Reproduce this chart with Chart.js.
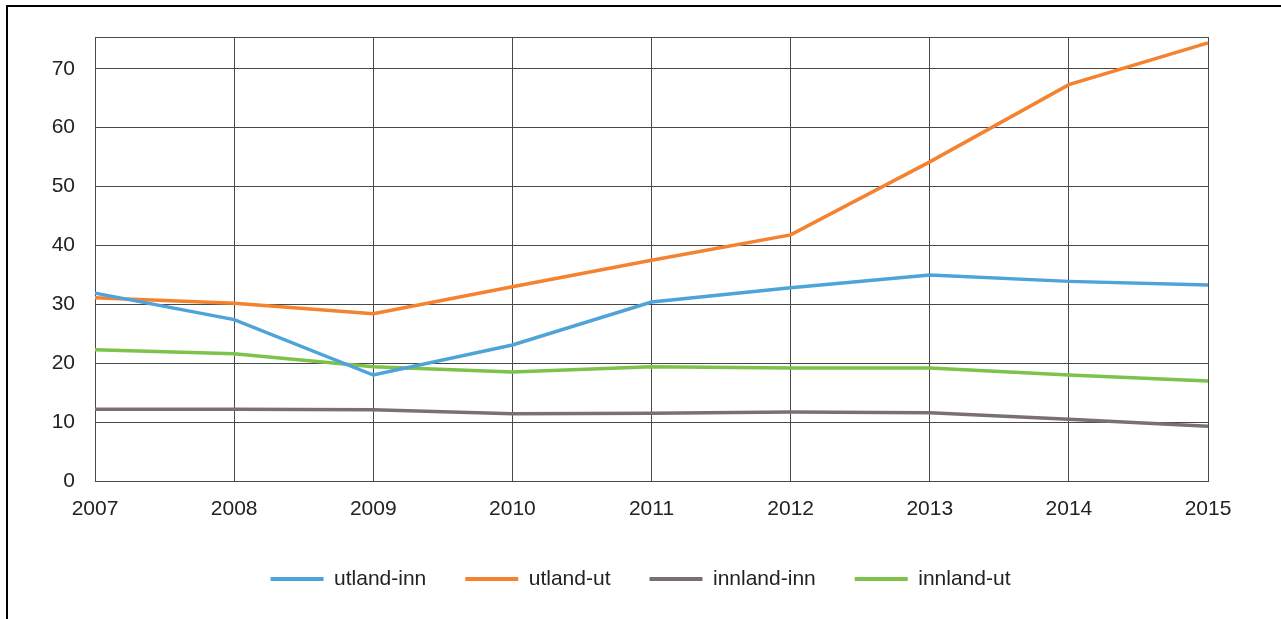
<!DOCTYPE html>
<html>
<head>
<meta charset="utf-8">
<script src="https://cdn.jsdelivr.net/npm/chart.js@4.4.1/dist/chart.umd.min.js"></script>
<style>
  html, body { margin: 0; padding: 0; background: #fff; }
  #wrap { position: relative; width: 1281px; height: 619px; overflow: hidden; }
  #frame { position: absolute; left: 6px; top: 5px; right: -10px; bottom: -10px;
           border-top: 2px solid #000; border-left: 2px solid #000; }
  canvas { position: absolute; left: 0; top: 0; }
</style>
</head>
<body>
<div id="wrap">
  <div id="frame"></div>
  <canvas id="chart" width="1281" height="619"></canvas>
</div>
<script>
const years = ["2007", "2008", "2009", "2010", "2011", "2012", "2013", "2014", "2015"];
const utlandInn = [31.9, 27.4, 18.0, 23.1, 30.4, 32.8, 35.0, 33.9, 33.3];
const utlandUt = [31.1, 30.2, 28.4, 33.0, 37.5, 41.8, 54.2, 67.3, 74.4];
const innlandInn = [12.2, 12.2, 12.1, 11.4, 11.5, 11.7, 11.6, 10.5, 9.3];
const innlandUt = [22.3, 21.6, 19.4, 18.5, 19.4, 19.2, 19.2, 18.0, 17.0];
const yTicks = [0, 10, 20, 30, 40, 50, 60, 70];

const gridColor = "#484848";
const font = { family: "'Liberation Sans', Arial, sans-serif", size: 21 };

function line(label, data, color) {
  return {
    label: label,
    data: data,
    borderColor: color,
    backgroundColor: color,
    borderWidth: 3.5,
    pointRadius: 0,
    tension: 0,
    fill: false
  };
}

const ctx = document.getElementById("chart").getContext("2d");
new Chart(ctx, {
  type: "line",
  data: {
    labels: years,
    datasets: [
      line("utland-inn", utlandInn, "#4ea4d9"),
      line("utland-ut", utlandUt, "#f5822f"),
      line("innland-inn", innlandInn, "#7a7072"),
      line("innland-ut", innlandUt, "#7dc24b")
    ]
  },
  options: {
    responsive: false,
    animation: false,
    layout: { padding: { left: 0, right: 0, top: 37, bottom: 19.5 } },
    plugins: {
      tooltip: { enabled: false },
      legend: {
        position: "bottom",
        labels: {
          color: "#222",
          font: font,
          boxWidth: 53,
          boxHeight: 4,
          padding: 39,
          generateLabels: chart => Chart.defaults.plugins.legend.labels.generateLabels(chart)
            .map(item => Object.assign(item, { lineWidth: 0, fillStyle: item.strokeStyle }))
        }
      }
    },
    scales: {
      x: {
        offset: false,
        grid: { color: gridColor, lineWidth: 1, drawTicks: false },
        border: { color: gridColor },
        ticks: { color: "#222", font: font, padding: 16, maxRotation: 0 },
        afterFit: scale => { scale.height = 48.5; }
      },
      y: {
        min: 0,
        max: 75.4,
        grid: { color: gridColor, lineWidth: 1, drawTicks: false },
        border: { color: gridColor },
        afterBuildTicks: scale => {
          scale.ticks = yTicks.map(v => ({ value: v })).concat([{ value: 75.4 }]);
        },
        ticks: {
          color: "#222",
          font: font,
          padding: 20,
          callback: v => (yTicks.includes(v) ? v : "")
        },
        afterFit: scale => { scale.width = 95; }
      },
      // empty right-hand axis only reserves the white margin on the right,
      // so the legend stays centred on the whole page
      spacer: {
        position: "right",
        grid: { display: false },
        border: { display: false },
        ticks: { display: false },
        afterFit: scale => { scale.width = 73; }
      }
    }
  }
});
</script>
</body>
</html>
